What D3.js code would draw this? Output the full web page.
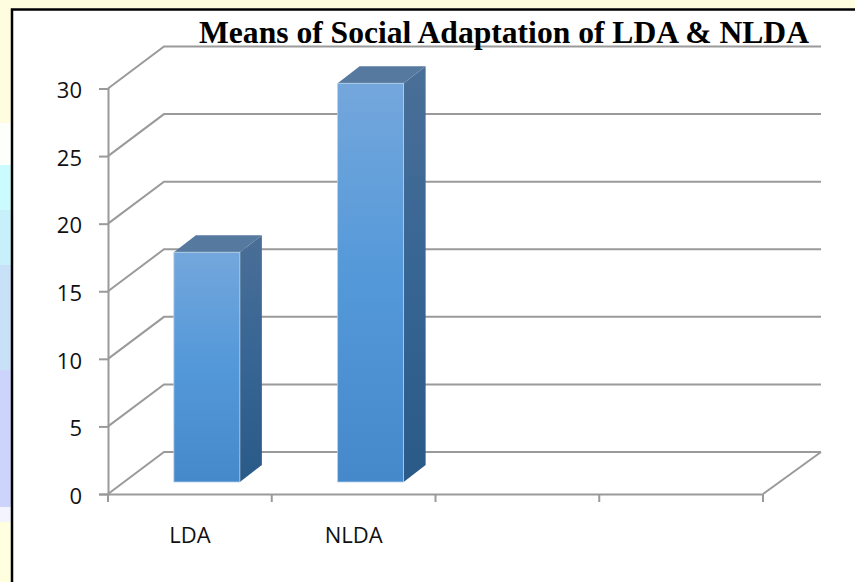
<!DOCTYPE html>
<html>
<head>
<meta charset="utf-8">
<title>Means of Social Adaptation of LDA & NLDA</title>
<script src="https://cdn.jsdelivr.net/npm/d3@7"></script>
<style>
    html, body { margin: 0; padding: 0; background: #fff; overflow: hidden; }
    svg { display: block; }
    .tick text { font-family: "Open Sans", "Noto Sans", sans-serif; fill: #111; }
</style>
</head>
<body>
<div id="chart"></div>
<script>
'use strict';

var categories = ["LDA", "NLDA", "", ""];
var means = [17, 29.5];
var yTicks = [0, 5, 10, 15, 20, 25, 30];
var titleText = "Means of Social Adaptation of LDA & NLDA";

var width = 855, height = 582;
var axisColor = "#9a9a9a";
//depth of the chart floor and of the bars
var floorDx = 56, floorDy = -42, backRight = 821;
var barDx = 22, barDy = -17;
var barShiftX = 17, barShiftY = -12;

var svg = d3.select("#chart").append("svg")
    .attr("width", width)
    .attr("height", height);

var defs = svg.append("defs");
function gradient(id, x2, y2, stops) {
    var g = defs.append("linearGradient").attr("id", id)
        .attr("x1", 0).attr("y1", 0).attr("x2", x2).attr("y2", y2);
    stops.forEach(function (s) {
        g.append("stop").attr("offset", s[0]).attr("stop-color", s[1]);
    });
}
gradient("frontFill", 0, 1, [[0, "#74a7dc"], [0.5, "#5398d9"], [1, "#4689ca"]]);
gradient("sideFill", 0, 1, [[0, "#4a6f97"], [0.5, "#376594"], [1, "#2a5a88"]]);

//page background behind the white panel
var pageBands = [
    [0, 123, "#fffde0"],
    [123, 165, "#fdfffa"],
    [165, 210, "#ccfbff"],
    [210, 265, "#c8f0fa"],
    [265, 370, "#c8e0f8"],
    [370, 507, "#ccd4fb"],
    [507, 522, "#f4f4ff"],
    [522, 582, "#ffffe0"]
];
svg.selectAll("rect.band").data(pageBands).enter().append("rect")
    .attr("class", "band")
    .attr("x", 0).attr("y", function (d) { return d[0]; })
    .attr("width", 11).attr("height", function (d) { return d[1] - d[0]; })
    .attr("fill", function (d) { return d[2]; });
svg.append("rect").attr("x", 0).attr("y", 0).attr("width", width).attr("height", 8).attr("fill", "#fffde0");
svg.append("path")
    .attr("d", "M12,582V9.5H855")
    .attr("fill", "none").attr("stroke", "#000").attr("stroke-width", 2.5);

var x = d3.scaleBand().domain(categories.map(function (c, i) { return i; })).range([108, 763]);
var y = d3.scaleLinear().domain([0, 30]).range([494, 88.5]);

//gridlines on the side wall and the back wall
var grid = svg.append("g").attr("fill", "none").attr("stroke", axisColor).attr("stroke-width", 2);
grid.selectAll("path").data(yTicks).enter().append("path")
    .attr("d", function (d) {
        return "M108," + y(d) + "L" + (108 + floorDx) + "," + (y(d) + floorDy) + "H" + backRight;
    });
//floor right edge
grid.append("path")
    .attr("d", "M763," + y(0) + "L" + backRight + "," + (y(0) + floorDy));

var yAxis = d3.axisLeft(y).tickValues(yTicks).tickSize(9).tickPadding(17);
var yG = svg.append("g").attr("transform", "translate(108,0)").call(yAxis);

var xAxis = d3.axisBottom(x).tickSize(0).tickPadding(33)
    .tickFormat(function (i) { return categories[i]; });
var xG = svg.append("g").attr("transform", "translate(0," + y(0) + ")").call(xAxis);
//ticks sit between the categories
xG.selectAll("line.sep").data(d3.range(categories.length + 1)).enter().append("line")
    .attr("class", "sep")
    .attr("x1", function (i) { return 108 + i * x.step(); })
    .attr("x2", function (i) { return 108 + i * x.step(); })
    .attr("y1", 0).attr("y2", 8)
    .attr("stroke", axisColor).attr("stroke-width", 2);

[yG, xG].forEach(function (g) {
    g.select(".domain").attr("stroke", axisColor).attr("stroke-width", 2);
    g.selectAll(".tick line").attr("stroke", axisColor).attr("stroke-width", 2);
});
yG.selectAll(".tick text").attr("font-size", 22).attr("dy", "0.42em");
xG.selectAll(".tick text").attr("font-size", 22);

//bars
var barWidth = 66;
var barBase = y(0) + barShiftY;
function barLeft(i) { return x(i) + x.bandwidth() / 2 + barShiftX - barWidth / 2; }
function barTop(d) { return y(d) + barShiftY; }

var bars = svg.selectAll("g.bar").data(means).enter().append("g").attr("class", "bar");
bars.append("path")
    .attr("fill", "url(#sideFill)")
    .attr("d", function (d, i) {
        var r = barLeft(i) + barWidth;
        return "M" + r + "," + barTop(d) + "l" + barDx + "," + barDy + "V" + (barBase + barDy) + "L" + r + "," + barBase + "Z";
    });
bars.append("path")
    .attr("fill", "#56799f")
    .attr("d", function (d, i) {
        var l = barLeft(i), t = barTop(d);
        return "M" + l + "," + t + "l" + barDx + "," + barDy + "h" + barWidth + "l" + (-barDx) + "," + (-barDy) + "Z";
    });
bars.append("rect")
    .attr("fill", "url(#frontFill)")
    .attr("stroke", "#b5d0ea")
    .attr("stroke-width", 0.8)
    .attr("x", function (d, i) { return barLeft(i); })
    .attr("y", barTop)
    .attr("width", barWidth)
    .attr("height", function (d) { return barBase - barTop(d); });

svg.append("text")
    .attr("x", 199).attr("y", 43)
    .attr("font-family", '"Liberation Serif", serif')
    .attr("font-weight", "bold")
    .attr("font-size", 31.6)
    .attr("fill", "#000")
    .text(titleText);
</script>
</body>
</html>
